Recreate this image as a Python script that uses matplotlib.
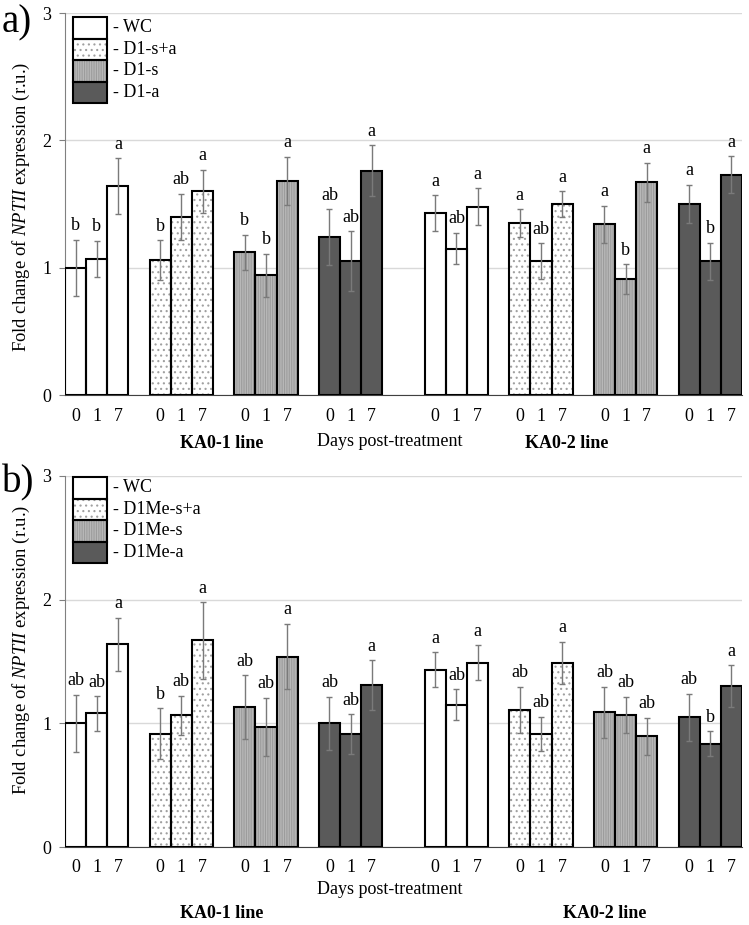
import matplotlib
matplotlib.use("Agg")
import matplotlib.pyplot as plt

plt.rcParams["font.family"] = ["Liberation Serif", "DejaVu Serif"]
plt.rcParams["mathtext.fontset"] = "custom"
plt.rcParams["mathtext.rm"] = "Liberation Serif"
plt.rcParams["mathtext.it"] = "Liberation Serif:italic"
plt.rcParams["hatch.linewidth"] = 0.8

# data
days = ["0", "1", "7"]
lines = ["KA0-1 line", "KA0-2 line"]
treat_a = ["WC", "D1-s+a", "D1-s", "D1-a"]
treat_b = ["WC", "D1Me-s+a", "D1Me-s", "D1Me-a"]

a_mean = [[1.00, 1.07, 1.64], [1.06, 1.40, 1.60], [1.12, 0.94, 1.68], [1.24, 1.05, 1.76],
          [1.43, 1.15, 1.48], [1.35, 1.05, 1.50], [1.34, 0.91, 1.67], [1.50, 1.05, 1.73]]
a_err = [[0.22, 0.14, 0.22], [0.155, 0.18, 0.17], [0.14, 0.17, 0.19], [0.22, 0.235, 0.20],
         [0.14, 0.125, 0.145], [0.11, 0.14, 0.10], [0.145, 0.115, 0.155], [0.15, 0.145, 0.145]]
a_letters = [["b", "b", "a"], ["b", "ab", "a"], ["b", "b", "a"], ["ab", "ab", "a"],
             ["a", "ab", "a"], ["a", "ab", "a"], ["a", "b", "a"], ["a", "b", "a"]]

b_mean = [[1.00, 1.08, 1.64], [0.915, 1.065, 1.67], [1.13, 0.97, 1.54], [1.00, 0.915, 1.31],
          [1.435, 1.15, 1.49], [1.11, 0.915, 1.49], [1.09, 1.07, 0.895], [1.05, 0.835, 1.30]]
b_err = [[0.23, 0.14, 0.215], [0.205, 0.16, 0.31], [0.26, 0.235, 0.265], [0.215, 0.16, 0.20],
         [0.14, 0.125, 0.14], [0.185, 0.14, 0.17], [0.205, 0.145, 0.15], [0.19, 0.10, 0.17]]
b_letters = [["ab", "ab", "a"], ["b", "ab", "a"], ["ab", "ab", "a"], ["ab", "ab", "a"],
             ["a", "ab", "a"], ["ab", "ab", "a"], ["ab", "ab", "ab"], ["ab", "b", "a"]]

# styles per treatment: facecolor, hatch, hatch colour
styles = [("white", "", "white"),
          ("white", "...", "#a0a0a0"),
          ("#b8b8b8", "|||||||", "#9c9c9c"),
          ("#5a5a5a", "", "#5a5a5a")]

group_start = [0, 4, 8, 12, 17, 21, 25, 29]


def styled_bar(ax, x, h, style, **kw):
    fc, hatch, hc = style
    ax.bar(x, h, color=fc, hatch=hatch, edgecolor=hc, linewidth=0, zorder=2, **kw)
    ax.bar(x, h, facecolor="none", edgecolor="black", linewidth=1.5, zorder=3, **kw)


def draw_panel(ax, means, errs, letters):
    ticks = []
    for g, start in enumerate(group_start):
        xs = [start + i + 0.5 for i in range(3)]
        ticks += xs
        styled_bar(ax, xs, means[g], styles[g % 4], width=1.0)
        ax.errorbar(xs, means[g], yerr=errs[g], fmt="none", ecolor="#7a7a7a",
                    elinewidth=1, capsize=2.5, capthick=1, zorder=4)
        for x, m, e, t in zip(xs, means[g], errs[g], letters[g]):
            ax.annotate(t, (x, m + e), xytext=(0, 4), textcoords="offset points",
                        ha="center", va="bottom", fontsize=13)
    ax.set_xlim(0, 32)
    ax.set_ylim(0, 3)
    ax.set_yticks([0, 1, 2, 3])
    ax.set_xticks(ticks)
    ax.set_xticklabels(days * 8, fontsize=13)
    ax.tick_params(axis="x", length=0, pad=9)
    ax.tick_params(axis="y", labelsize=13, length=4, color="#808080", pad=6)
    ax.grid(axis="y", color="#d9d9d9", linewidth=1, zorder=0)
    ax.set_axisbelow(True)
    for s in ["top", "right"]:
        ax.spines[s].set_visible(False)
    ax.spines["left"].set_color("#808080")
    ax.spines["bottom"].set_color("#404040")


def draw_legend(fig, rect, names):
    lg = fig.add_axes(rect)
    for i, name in enumerate(names):
        styled_bar(lg, 0.5, 1, styles[i], bottom=3 - i, width=1.0, clip_on=False)
        lg.text(1.18, 3.5 - i, "- " + name, fontsize=13, va="center", ha="left",
                clip_on=False)
    lg.set_xlim(0, 1)
    lg.set_ylim(0, 4)
    lg.axis("off")


fig = plt.figure(figsize=(7.49, 9.25), dpi=100)
ax_a = fig.add_axes([65 / 749, 1 - 395 / 925, 677 / 749, 382 / 925])
ax_b = fig.add_axes([65 / 749, 1 - 847 / 925, 677 / 749, 371 / 925])

draw_panel(ax_a, a_mean, a_err, a_letters)
draw_panel(ax_b, b_mean, b_err, b_letters)

draw_legend(fig, [73 / 749, 1 - 103 / 925, 34 / 749, 86 / 925], treat_a)
draw_legend(fig, [73 / 749, 1 - 563 / 925, 34 / 749, 86 / 925], treat_b)

ylab = r"Fold change of $\it{NPTII}$ expression (r.u.)"
fig.text(0.029, 1 - 207 / 925, ylab, rotation=90, ha="center", va="center", fontsize=13.4)
fig.text(0.029, 1 - 650 / 925, ylab, rotation=90, ha="center", va="center", fontsize=13.4)

fig.text(0.002, 1 - 23 / 925, "a)", fontsize=28, va="center", ha="left")
fig.text(0.002, 1 - 483 / 925, "b)", fontsize=28, va="center", ha="left")

# panel a axis titles
fig.text(390 / 749, 1 - 442 / 925, "Days post-treatment", fontsize=13, ha="center", va="center")
fig.text(222 / 749, 1 - 444 / 925, lines[0], fontsize=13, weight="bold", ha="center", va="center")
fig.text(567 / 749, 1 - 444 / 925, lines[1], fontsize=13, weight="bold", ha="center", va="center")

# panel b axis titles
fig.text(390 / 749, 1 - 890 / 925, "Days post-treatment", fontsize=13, ha="center", va="center")
fig.text(222 / 749, 1 - 913 / 925, lines[0], fontsize=13, weight="bold", ha="center", va="center")
fig.text(605 / 749, 1 - 913 / 925, lines[1], fontsize=13, weight="bold", ha="center", va="center")

fig.savefig("out.png", dpi=100)
